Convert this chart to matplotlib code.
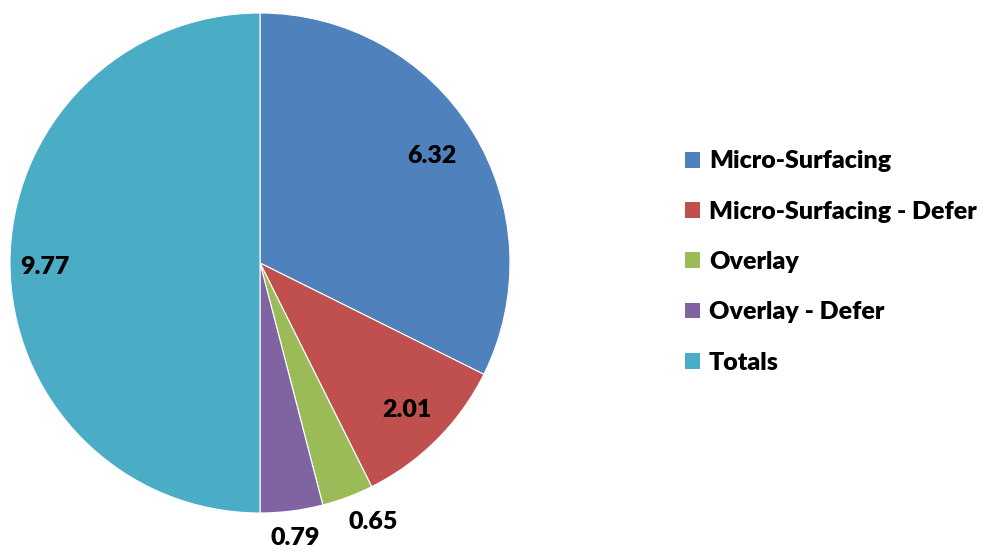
import numpy as np
import matplotlib

matplotlib.use("Agg")
import matplotlib.pyplot as plt

categories = ["Micro-Surfacing", "Micro-Surfacing - Defer", "Overlay", "Overlay - Defer", "Totals"]
values = [6.32, 2.01, 0.65, 0.79, 9.77]
value_labels = ["6.32", "2.01", "0.65", "0.79", "9.77"]
colors = ["#4F81BD", "#C0504D", "#9BBB59", "#8064A2", "#4BACC6"]

plt.rcParams["font.family"] = ["Lato", "DejaVu Sans"]

fig = plt.figure(figsize=(9.89, 5.52), dpi=100)
ax = fig.add_axes([10 / 989, 39 / 552, 500 / 989, 500 / 552])

wedges, _ = ax.pie(
    values,
    colors=colors,
    startangle=90,
    counterclock=False,
    radius=1.0,
    wedgeprops=dict(edgecolor="white", linewidth=0.8),
)
ax.set_xlim(-1, 1)
ax.set_ylim(-1, 1)
ax.set_aspect("auto")

# small slices get their labels outside the pie
label_r = [0.81, 0.83, 1.13, 1.11, 0.86]
angle_shift = [0, 0, 3, 0, 1]
for w, txt, r, da in zip(wedges, value_labels, label_r, angle_shift):
    mid = np.deg2rad((w.theta1 + w.theta2) / 2 + da)
    ax.text(r * np.cos(mid), r * np.sin(mid), txt, ha="center", va="center",
            fontsize=18, fontweight="heavy", color="black", clip_on=False)

leg = fig.legend(
    wedges, categories,
    loc="center left", bbox_to_anchor=(685 / 989, 1 - 262 / 552),
    frameon=False, handlelength=0.6, handleheight=0.6,
    handletextpad=0.36, labelspacing=1.13, borderpad=0, borderaxespad=0,
    prop=dict(weight="heavy", size=18),
)
for h in leg.legend_handles:
    h.set_edgecolor("none")

fig.savefig("out.png", dpi=100)
